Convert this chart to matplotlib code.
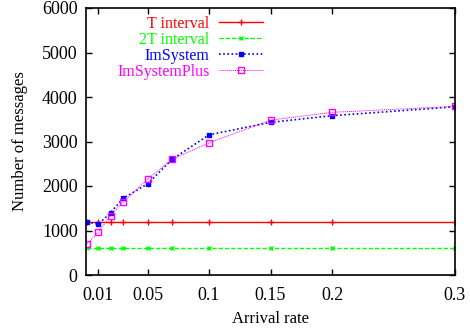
import matplotlib
matplotlib.use("Agg")
import matplotlib.pyplot as plt

plt.rcParams['font.family'] = ['Liberation Serif', 'DejaVu Serif']

rates = [0.001, 0.01, 0.02, 0.03, 0.05, 0.07, 0.1, 0.15, 0.2, 0.3]
t_interval = [1200] * 10
t2_interval = [600] * 10
imsystem = [1200, 1140, 1400, 1720, 2045, 2600, 3150, 3430, 3580, 3780]
imsystem_plus = [700, 965, 1335, 1630, 2150, 2600, 2970, 3480, 3655, 3790]
xticks = [0.01, 0.05, 0.1, 0.15, 0.2, 0.3]
xtick_labels = ['0.01', '0.05', '0.1', '0.15', '0.2', '0.3']

fig = plt.figure(figsize=(4.7, 3.29), dpi=100)
ax = fig.add_axes([86 / 470, 1 - 275 / 329, (455 - 86) / 470, (275 - 8) / 329])

ax.plot(rates, t_interval, color='red', linestyle='-', linewidth=1,
        marker='+', markersize=4, markeredgewidth=1, label='T interval')
ax.plot(rates, t2_interval, color='#00ff00', linestyle=(0, (3, 1.5)), linewidth=1,
        marker='x', markersize=3.5, markeredgewidth=1, label='2T interval')
ax.plot(rates, imsystem, color='blue', linestyle=(0, (1, 1.5)), linewidth=1.2,
        marker='s', markersize=3.5, label='ImSystem')
ax.plot(rates, imsystem_plus, color='magenta', linestyle=(0, (1, 1)), linewidth=0.7,
        marker='s', markersize=4, markerfacecolor='none', markeredgewidth=1,
        label='ImSystemPlus')

ax.set_xlim(0, 0.3)
ax.set_ylim(0, 6000)
ax.set_xticks(xticks)
ax.set_xticklabels(xtick_labels)
ax.set_yticks(range(0, 6001, 1000))
ax.tick_params(direction='in', top=True, right=True, labelsize=13, length=4, width=1)
ax.tick_params(axis='x', pad=9)
ax.tick_params(axis='y', pad=6)
for s in ax.spines.values():
    s.set_linewidth(1.2)

ax.set_xlabel('Arrival rate', fontsize=12, labelpad=5)
ax.set_ylabel('Number of messages', fontsize=12, labelpad=10)

ax.legend(loc='upper left', bbox_to_anchor=(0.045, 1.025), frameon=False,
          markerfirst=False, labelcolor='linecolor', fontsize=11.5,
          handlelength=2.75, handletextpad=0.6, labelspacing=0.0)

fig.savefig('out.png', dpi=100)
